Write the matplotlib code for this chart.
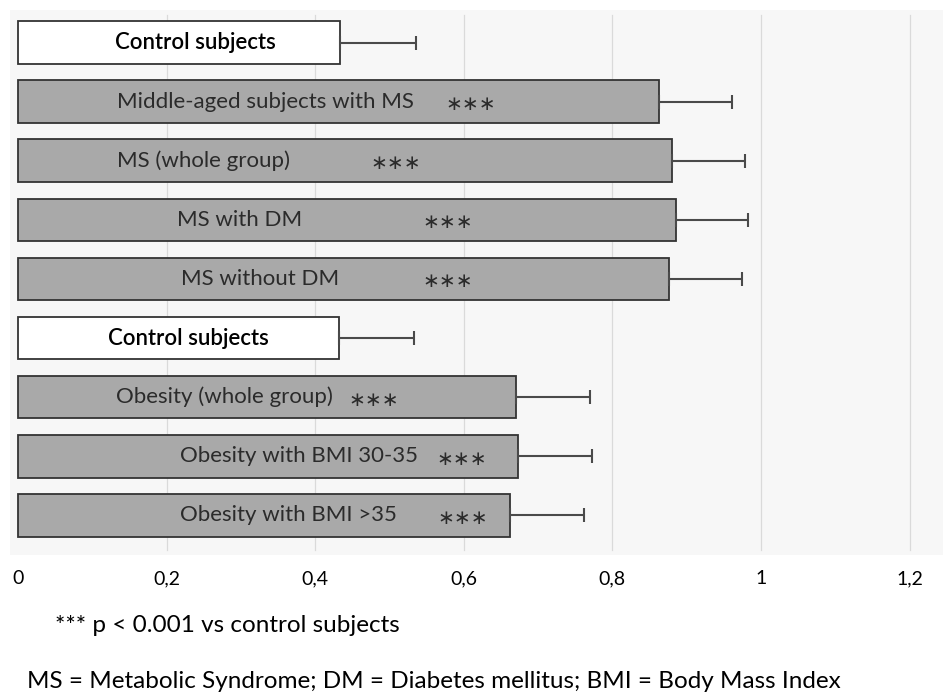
import numpy as np
import matplotlib.pyplot as plt

# group labels, means and SD
groups = ['Control subjects', 'Middle-aged subjects with MS', 'MS (whole group)',
          'MS with DM', 'MS without DM', 'Control subjects',
          'Obesity (whole group)', 'Obesity with BMI 30-35', 'Obesity with BMI >35']
means = [0.433, 0.863, 0.880, 0.886, 0.876, 0.432, 0.670, 0.673, 0.662]
sds = [0.103, 0.098, 0.098, 0.097, 0.099, 0.101, 0.100, 0.100, 0.100]
is_control = [True, False, False, False, False, True, False, False, False]
stars = ['', '***', '***', '***', '***', '', '***', '***', '***']
xticks = [0, 0.2, 0.4, 0.6, 0.8, 1.0, 1.2]
xticklabels = ['0', '0,2', '0,4', '0,6', '0,8', '1', '1,2']

# where the texts sit inside the bars (x in data units)
label_x = [0.131, 0.133, 0.133, 0.214, 0.219, 0.121, 0.132, 0.218, 0.218]
star_x = [0, 0.575, 0.474, 0.545, 0.545, 0, 0.445, 0.563, 0.565]

plt.rcParams['font.family'] = ['Lato', 'DejaVu Sans']

fig = plt.figure(figsize=(9.43, 6.94), dpi=100)
ax = fig.add_axes([10/943, 1 - 555/694, 933/943, 545/694])
ax.set_facecolor('#f7f7f7')

y = np.arange(len(groups))
colors = ['white' if c else '#a9a9a9' for c in is_control]
ax.barh(y, means, height=0.72, color=colors, edgecolor='#333333', linewidth=1.3,
        xerr=[np.zeros(len(sds)), sds],
        error_kw=dict(ecolor='#4a4a4a', elinewidth=1.5, capsize=5, capthick=1.5),
        zorder=3)

for i in range(len(groups)):
    if is_control[i]:
        ax.text(label_x[i], y[i], groups[i], va='center', ha='left',
                fontsize=16, color='black', fontweight='semibold', zorder=4)
    else:
        ax.text(label_x[i], y[i], groups[i], va='center', ha='left',
                fontsize=16, color='#2b2b2b', zorder=4)
        ax.text(star_x[i], y[i] + 0.05, '\u2217\u2217\u2217', va='center', ha='left',
                fontsize=14.5, color='#2b2b2b', family='DejaVu Sans', zorder=4)

for t in xticks[1:]:
    ax.axvline(t, ymin=0.01, ymax=0.99, color='#dadada', lw=0.9, zorder=1)

ax.set_xlim(-0.0108, 1.245)
ax.set_ylim(8.67, -0.55)
ax.set_yticks([])
ax.set_xticks(xticks)
ax.set_xticklabels(xticklabels, fontsize=14)
ax.tick_params(axis='x', length=0, pad=11)
for s in ax.spines.values():
    s.set_visible(False)

fig.text(55/943, 1 - 625/694, '*** p < 0.001 vs control subjects',
         fontsize=17.5, va='center', ha='left')
fig.text(27/943, 1 - 682/694,
         'MS = Metabolic Syndrome; DM = Diabetes mellitus; BMI = Body Mass Index',
         fontsize=17.5, va='center', ha='left')

fig.savefig('out.png', dpi=100)
